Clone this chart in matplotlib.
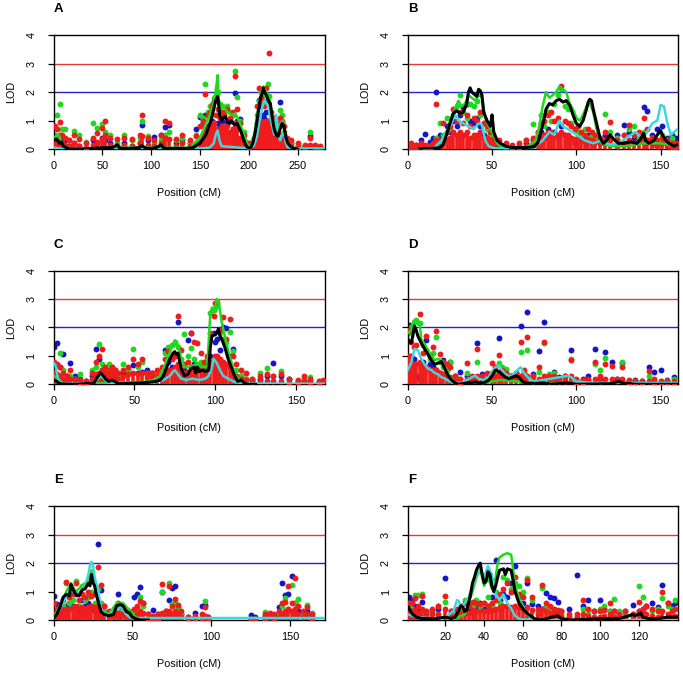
import matplotlib
matplotlib.use("Agg")
import matplotlib.pyplot as plt

plt.rcParams["font.family"] = ["Liberation Sans", "DejaVu Sans"]

RED = "#f01c1c"
GREEN = "#20d820"
BLUE = "#1414c8"
CYAN = "#3cd8e0"

# ---- panel A ------------------------------------------------------------
A_pos = [1, 3, 6, 9, 12, 16, 21, 26, 33, 40, 44, 50, 53, 58, 65, 72, 80, 88, 90, 97,
         103, 110, 114, 118, 125, 132, 140, 146, 150, 153, 155, 158, 160, 162, 164, 166, 168, 170, 172, 175,
         178, 181, 184, 186, 188, 191, 195, 200, 205, 208, 210, 212, 214, 216, 218, 220, 221, 223, 226, 229,
         232, 234, 236, 239, 243, 250, 258, 263, 268, 273]
A_red_a = [0.8, 0.7, 0.96, 0.5, 0.4, 0.3, 0.5, 0.35, 0.2, 0.4, 0.55, 0.75, 1.0, 0.4, 0.35, 0.4, 0.35, 0.5, 1.18, 0.4,
           0.3, 0.5, 1.0, 0.9, 0.35, 0.5, 0.3, 0.45, 0.8, 1.0, 1.93, 1.2, 1.3, 1.5, 1.7, 1.2, 1.4, 1.1, 1.3, 1.2,
           1.4, 1.1, 1.3, 2.56, 1.4, 0.9, 0.5, 0.2, 0.4, 1.5, 2.13, 1.8, 1.6, 1.5, 2.15, 1.6, 3.36, 1.3, 1.1, 0.9,
           1.1, 1.0, 0.8, 0.4, 0.3, 0.2, 0.15, 0.4, 0.15, 0.12]
A_red_b = [0.4, 0.3, 0.5, 0.2, 0.15, 0.1, 0.2, 0.1, 0.05, 0.15, 0.25, 0.35, 0.5, 0.15, 0.1, 0.15, 0.1, 0.2, 0.45, 0.15,
           0.1, 0.2, 0.4, 0.35, 0.1, 0.2, 0.1, 0.2, 0.35, 0.5, 0.8, 0.6, 0.7, 0.8, 0.9, 0.7, 0.6, 0.7, 0.8, 0.7,
           0.8, 0.6, 0.7, 0.9, 0.7, 0.4, 0.2, 0.05, 0.15, 0.7, 1.0, 1.0, 0.9, 0.8, 1.0, 0.8, 1.0, 0.7, 0.5, 0.4,
           0.5, 0.5, 0.4, 0.2, 0.1, 0.05, 0.05, 0.15, 0.05, 0.05]
A_green = [0.5, 1.19, 1.6, 0.7, 0.7, 0.3, 0.65, 0.5, 0.25, 0.92, 0.73, 0.88, 0.6, 0.5, 0.2, 0.5, 0.3, 0.4, 0.99, 0.45,
           0.2, 0.3, 0.5, 0.6, 0.3, 0.4, 0.2, 0.5, 1.19, 1.1, 2.3, 1.3, 1.5, 1.6, 1.8, 1.9, 2.0, 1.6, 1.5, 1.3,
           1.5, 1.3, 1.2, 2.75, 1.84, 1.0, 0.6, 0.2, 0.3, 1.2, 1.7, 2.0, 1.9, 1.7, 1.9, 2.3, 1.85, 1.2, 0.9, 0.7,
           1.37, 1.2, 0.6, 0.3, 0.2, 0.1, 0.1, 0.6, 0.1, 0.05]
A_blue = [0.3, 0.2, 0.4, 0.1, 0.3, 0.1, 0.2, 0.1, 0.05, 0.3, 0.2, 0.4, 0.3, 0.2, 0.1, 0.2, 0.1, 0.2, 0.84, 0.3,
          0.43, 0.5, 0.78, 0.85, 0.2, 0.3, 0.2, 0.7, 1.13, 0.9, 1.2, 0.8, 1.3, 1.0, 0.9, 0.7, 0.9, 0.8, 1.0, 0.7,
          0.9, 1.0, 0.7, 1.98, 1.0, 1.05, 0.3, 0.1, 0.3, 0.9, 1.72, 1.5, 1.2, 1.1, 1.3, 1.0, 0.9, 0.8, 0.6, 0.5,
          1.66, 0.9, 0.5, 0.3, 0.2, 0.1, 0.1, 0.45, 0.05, 0.05]
A_black_x = [0, 2, 4, 6, 8, 10, 13, 16, 20, 30, 40, 50, 55, 60, 63, 65, 67, 70, 80, 88,
             90, 92, 95, 100, 105, 108, 110, 112, 115, 125, 135, 143, 147, 150, 153, 156, 158, 160, 162, 164,
             166, 168, 169, 170, 172, 174, 176, 178, 180, 182, 184, 186, 188, 190, 192, 194, 196, 198, 200, 202,
             204, 206, 208, 210, 212, 214, 215, 216, 218, 220, 222, 224, 226, 228, 230, 232, 234, 236, 238, 240,
             243, 246, 250]
A_black_y = [0.3, 0.35, 0.3, 0.2, 0.25, 0.1, 0.05, 0.0, 0.0, 0.0, 0.02, 0.05, 0.05, 0.05, 0.1, 0.15, 0.05, 0.02, 0.02, 0.05,
             0.12, 0.08, 0.02, 0.02, 0.05, 0.1, 0.15, 0.05, 0.02, 0.02, 0.02, 0.05, 0.15, 0.2, 0.35, 0.5, 0.7, 0.9, 1.1, 1.4,
             1.7, 1.85, 1.6, 1.2, 1.0, 1.1, 1.15, 0.95, 0.9, 1.0, 0.9, 0.85, 0.9, 0.75, 0.6, 0.4, 0.2, 0.08, 0.02, 0.05,
             0.2, 0.5, 0.9, 1.4, 1.8, 2.0, 2.15, 2.0, 1.9, 1.7, 1.6, 1.1, 0.7, 0.5, 0.45, 0.7, 0.9, 0.8, 0.4, 0.2,
             0.08, 0.02, 0.0]
A_green_x = [0, 5, 10, 20, 60, 140, 150, 155, 160, 163, 165, 167, 168, 169, 171, 174, 178, 182, 186, 190,
             194, 198, 202, 206, 209, 212, 215, 218, 221, 224, 228, 232, 235, 238, 242, 250]
A_green_y = [0.4, 0.5, 0.1, 0.0, 0.05, 0.05, 0.4, 0.8, 1.2, 1.5, 1.8, 2.3, 2.6, 1.8, 1.4, 1.5, 1.3, 1.2, 1.25, 1.0,
             0.6, 0.2, 0.05, 0.6, 1.3, 1.9, 2.2, 2.0, 1.8, 1.2, 0.6, 0.9, 1.0, 0.4, 0.1, 0.0]
A_cyan_x = [0, 10, 50, 100, 150, 160, 164, 166, 168, 170, 172, 190, 200, 205, 208, 211, 214, 216, 218, 220,
            222, 224, 226, 228, 230, 232, 234, 236, 238, 240, 250, 278]
A_cyan_y = [0.05, 0.0, 0.02, 0.02, 0.02, 0.05, 0.2, 0.5, 0.65, 0.3, 0.1, 0.05, 0.02, 0.1, 0.4, 1.0, 1.5, 1.7, 1.6, 1.5,
            1.1, 0.8, 0.5, 1.2, 0.6, 0.3, 0.5, 0.6, 0.2, 0.05, 0.02, 0.02]

# ---- panel B ------------------------------------------------------------
B_pos = [2, 5, 8, 10, 13, 15, 17, 19, 21, 23, 25, 27, 29, 31, 33, 35, 37, 39, 41, 43,
         45, 47, 49, 51, 54, 58, 62, 66, 70, 74, 77, 79, 81, 83, 85, 87, 89, 91, 93, 95,
         97, 99, 101, 103, 105, 107, 109, 111, 114, 117, 120, 124, 128, 131, 134, 137, 140, 142, 145, 148,
         151, 154, 157, 159]
B_red_a = [0.2, 0.15, 0.2, 0.15, 0.1, 0.2, 1.58, 0.3, 0.9, 0.6, 0.8, 1.4, 1.0, 1.3, 0.9, 1.2, 0.8, 1.1, 1.0, 1.3,
           0.9, 0.8, 0.6, 0.4, 0.3, 0.2, 0.15, 0.2, 0.3, 0.4, 0.6, 0.9, 1.0, 1.2, 1.3, 1.0, 1.1, 2.21, 1.0, 0.9,
           0.8, 0.7, 0.8, 0.6, 0.5, 0.7, 0.6, 0.5, 0.4, 0.6, 0.96, 0.3, 0.5, 0.84, 0.5, 0.6, 1.08, 0.7, 0.4, 0.3,
           0.4, 0.3, 0.2, 0.2]
B_red_b = [0.05, 0.05, 0.1, 0.05, 0.05, 0.1, 0.3, 0.1, 0.3, 0.3, 0.4, 0.6, 0.5, 0.6, 0.5, 0.6, 0.4, 0.5, 0.5, 0.6,
           0.4, 0.4, 0.3, 0.2, 0.1, 0.05, 0.05, 0.05, 0.1, 0.2, 0.3, 0.4, 0.5, 0.6, 0.6, 0.5, 0.5, 0.6, 0.5, 0.5,
           0.4, 0.35, 0.4, 0.3, 0.25, 0.35, 0.3, 0.25, 0.2, 0.3, 0.3, 0.1, 0.2, 0.3, 0.2, 0.25, 0.35, 0.3, 0.15, 0.1,
           0.2, 0.1, 0.05, 0.05]
B_green = [0.1, 0.05, 0.1, 0.05, 0.1, 0.1, 0.4, 0.9, 0.5, 1.08, 0.7, 1.2, 1.5, 1.9, 1.3, 1.1, 1.6, 1.5, 1.7, 1.2,
           0.9, 0.7, 0.5, 0.3, 0.1, 0.05, 0.05, 0.1, 0.3, 0.87, 0.6, 1.2, 0.8, 1.3, 1.0, 1.6, 1.9, 2.1, 1.5, 1.4,
           0.9, 0.7, 0.6, 0.5, 0.7, 0.4, 0.5, 0.3, 0.4, 1.23, 0.6, 0.4, 0.5, 0.7, 0.8, 0.4, 0.6, 0.3, 0.4, 0.2,
           0.5, 0.3, 0.4, 0.1]
B_blue = [0.1, 0.15, 0.3, 0.53, 0.25, 0.4, 2.0, 0.5, 0.3, 0.8, 0.6, 1.0, 0.8, 1.2, 1.49, 1.6, 1.0, 0.9, 1.1, 0.8,
          0.5, 0.4, 0.2, 0.1, 0.05, 0.05, 0.05, 0.1, 0.2, 0.3, 0.5, 0.6, 0.4, 0.7, 0.5, 0.6, 0.4, 0.8, 0.5, 0.3,
          0.4, 0.2, 0.3, 0.4, 0.3, 0.5, 0.2, 0.3, 0.2, 0.5, 0.4, 0.5, 0.84, 0.6, 0.4, 0.3, 1.46, 1.33, 0.5, 0.7,
          0.81, 0.4, 0.5, 0.4]
B_black_x = [7, 15, 19, 21, 23, 25, 27, 29, 31, 33, 35, 36, 37, 38, 40, 41, 42, 43, 44, 45,
             47, 49, 50, 51, 53, 55, 58, 62, 70, 75, 77, 79, 81, 82, 84, 86, 88, 90, 92, 94,
             96, 98, 100, 102, 104, 106, 107, 108, 109, 110, 112, 114, 116, 118, 120, 122, 125, 128, 132, 136,
             138, 140, 141, 143, 146, 148, 150, 151, 153, 155, 158, 160]
B_black_y = [0.0, 0.02, 0.05, 0.15, 0.5, 0.9, 1.25, 1.35, 1.25, 1.3, 1.6, 2.0, 2.15, 2.0, 1.9, 1.85, 2.1, 2.05, 1.9, 1.3,
             1.0, 0.8, 1.2, 0.6, 0.3, 0.2, 0.1, 0.05, 0.05, 0.08, 0.2, 0.6, 1.1, 1.4, 1.6, 1.55, 1.7, 1.75, 1.65, 1.7,
             1.55, 1.2, 0.9, 0.8, 1.0, 1.4, 1.65, 1.75, 1.7, 1.4, 0.9, 0.4, 0.2, 0.3, 0.5, 0.35, 0.2, 0.2, 0.25, 0.2,
             0.35, 0.55, 0.3, 0.2, 0.3, 0.5, 0.65, 0.5, 0.3, 0.2, 0.1, 0.15]
B_green_x = [15, 20, 23, 26, 28, 30, 32, 34, 36, 38, 40, 42, 44, 46, 48, 50, 53, 56, 60, 70,
             76, 78, 80, 82, 84, 86, 88, 90, 92, 94, 96, 98, 100, 102, 104, 106, 108, 110, 112, 115,
             120, 130, 140, 150, 160]
B_green_y = [0.0, 0.1, 0.6, 1.1, 1.4, 1.7, 1.5, 1.6, 1.9, 1.8, 1.7, 1.9, 1.8, 1.1, 0.8, 0.6, 0.2, 0.05, 0.02, 0.05,
             0.3, 0.8, 1.5, 2.0, 1.8, 1.9, 2.0, 2.2, 2.1, 2.0, 1.6, 1.4, 1.1, 1.0, 1.2, 1.5, 1.6, 1.3, 0.7, 0.2,
             0.1, 0.1, 0.2, 0.2, 0.1]
B_cyan_x = [15, 20, 23, 26, 28, 30, 33, 36, 39, 42, 44, 46, 48, 52, 60, 75, 80, 84, 87, 90,
            92, 95, 100, 105, 110, 115, 120, 125, 130, 135, 138, 142, 145, 148, 150, 152, 154, 156, 158, 160]
B_cyan_y = [0.0, 0.3, 0.6, 0.9, 1.2, 1.0, 0.9, 0.8, 0.7, 0.9, 0.85, 0.3, 0.1, 0.02, 0.0, 0.05, 0.3, 0.6, 0.5, 1.0,
            0.8, 0.7, 0.5, 0.3, 0.2, 0.3, 0.15, 0.2, 0.4, 0.6, 0.45, 0.6, 0.9, 1.0, 1.55, 1.5, 0.9, 0.5, 0.6, 0.7]

# ---- panel C ------------------------------------------------------------
C_pos = [0.5, 2, 4, 6, 8, 10, 13, 16, 20, 24, 26, 28, 30, 32, 34, 36, 38, 40, 43, 46,
         49, 52, 55, 58, 61, 64, 67, 69, 71, 73, 75, 77, 79, 81, 83, 85, 87, 89, 91, 93,
         95, 97, 99, 100, 101, 103, 105, 107, 109, 111, 113, 116, 119, 123, 128, 132, 136, 141, 146, 151,
         155, 159, 164, 167]
C_red_a = [0.8, 0.7, 0.6, 0.4, 0.3, 0.5, 0.2, 0.15, 0.1, 0.4, 0.8, 1.0, 1.24, 0.6, 0.5, 0.6, 0.5, 0.4, 0.5, 0.6,
           0.9, 0.7, 0.9, 0.4, 0.4, 0.5, 0.6, 0.9, 1.17, 0.9, 1.0, 2.42, 1.2, 0.7, 0.8, 1.79, 1.5, 1.44, 1.1, 0.8,
           1.0, 1.8, 2.4, 2.85, 2.91, 1.9, 2.38, 1.6, 2.3, 1.0, 0.7, 0.5, 0.4, 0.2, 0.3, 0.35, 0.3, 0.35, 0.2, 0.15,
           0.3, 0.2, 0.1, 0.15]
C_red_b = [0.4, 0.35, 0.3, 0.2, 0.15, 0.2, 0.1, 0.05, 0.05, 0.2, 0.35, 0.4, 0.5, 0.4, 0.35, 0.4, 0.3, 0.2, 0.3, 0.35,
           0.4, 0.35, 0.4, 0.25, 0.3, 0.3, 0.35, 0.45, 0.5, 0.5, 0.6, 0.7, 0.5, 0.4, 0.45, 0.6, 0.6, 0.5, 0.5, 0.4,
           0.5, 0.8, 0.9, 1.0, 1.0, 0.9, 0.8, 0.7, 0.6, 0.4, 0.3, 0.2, 0.15, 0.1, 0.1, 0.1, 0.1, 0.1, 0.05, 0.05,
           0.1, 0.05, 0.05, 0.1]
C_green = [0.3, 0.2, 1.09, 0.5, 0.3, 0.3, 0.2, 0.35, 0.1, 0.5, 0.6, 1.41, 0.7, 0.5, 0.7, 0.6, 0.4, 0.3, 0.7, 0.5,
           1.24, 0.6, 0.8, 0.4, 0.3, 0.4, 0.5, 1.1, 1.3, 1.4, 1.5, 1.3, 0.9, 1.76, 1.0, 1.27, 0.9, 0.7, 0.8, 0.7,
           0.9, 2.5, 2.6, 2.7, 2.8, 1.8, 1.6, 1.5, 1.85, 1.18, 0.5, 0.3, 0.2, 0.2, 0.4, 0.59, 0.3, 0.48, 0.2, 0.1,
           0.2, 0.27, 0.1, 0.05]
C_blue = [1.3, 1.44, 0.6, 1.06, 0.3, 0.74, 0.3, 0.2, 0.1, 0.3, 1.24, 0.9, 0.5, 0.4, 0.3, 0.4, 0.5, 0.3, 0.4, 0.5,
          0.67, 0.4, 0.45, 0.5, 0.4, 0.3, 0.4, 1.21, 0.8, 0.6, 0.5, 2.18, 0.4, 0.5, 1.56, 1.79, 0.7, 0.6, 0.75, 0.5,
          0.6, 1.0, 1.8, 1.5, 1.6, 1.2, 2.0, 1.99, 1.0, 1.24, 0.3, 0.3, 0.2, 0.15, 0.2, 0.3, 0.74, 0.3, 0.2, 0.1,
          0.1, 0.1, 0.05, 0.1]
C_black_x = [0, 2, 4, 8, 15, 25, 27, 29, 30, 32, 34, 36, 38, 40, 45, 55, 60, 63, 66, 68,
             70, 72, 74, 75, 76, 77, 78, 79, 81, 83, 85, 87, 88, 89, 90, 92, 94, 96, 97, 98,
             100, 101, 102, 103, 104, 106, 108, 110, 112, 114, 116, 118, 120, 125]
C_black_y = [0.15, 0.1, 0.02, 0.0, 0.0, 0.05, 0.25, 0.4, 0.35, 0.2, 0.1, 0.15, 0.1, 0.02, 0.03, 0.05, 0.08, 0.1, 0.15, 0.3,
             0.6, 0.9, 1.1, 1.15, 1.05, 1.1, 0.8, 0.55, 0.3, 0.35, 0.55, 0.6, 0.4, 0.6, 0.45, 0.5, 0.45, 0.5, 1.3, 1.7,
             1.75, 1.8, 1.95, 1.7, 1.6, 1.3, 0.9, 0.6, 0.3, 0.1, 0.15, 0.05, 0.0, 0.0]
C_green_x = [0, 3, 6, 20, 60, 66, 69, 71, 73, 74, 75, 76, 77, 79, 81, 84, 88, 92, 95, 96,
             97, 98, 99, 100, 101, 102, 103, 104, 106, 108, 110, 112, 114, 118]
C_green_y = [0.3, 0.2, 0.0, 0.02, 0.1, 0.3, 0.7, 1.0, 1.3, 1.4, 1.55, 1.35, 1.4, 0.9, 0.6, 0.6, 0.7, 0.6, 0.6, 1.5,
             2.5, 2.7, 2.65, 2.7, 3.0, 2.95, 2.6, 2.2, 1.7, 1.2, 0.8, 0.4, 0.2, 0.05]
C_cyan_x = [0, 1, 2, 3, 6, 20, 26, 29, 31, 34, 40, 60, 68, 72, 74, 75, 77, 79, 82, 86,
            90, 94, 96, 98, 99, 101, 103, 105, 108, 112, 120, 168]
C_cyan_y = [0.75, 0.7, 0.4, 0.1, 0.02, 0.02, 0.1, 0.3, 0.2, 0.05, 0.02, 0.05, 0.15, 0.3, 0.45, 0.5, 0.35, 0.2, 0.15, 0.2,
            0.15, 0.2, 0.3, 0.6, 0.9, 0.75, 0.5, 0.3, 0.2, 0.08, 0.03, 0.02]

# ---- panel D ------------------------------------------------------------
D_pos = [0.5, 2, 3.5, 5, 7, 9, 11, 13, 15, 17, 19, 21, 23, 25, 28, 31, 35, 38, 41, 44,
         47, 50, 52, 54, 56, 58, 61, 64, 67, 69, 71, 74, 78, 81, 84, 87, 90, 93, 97, 100,
         104, 107, 111, 114, 117, 121, 124, 127, 131, 135, 139, 143, 146, 150, 154, 158]
D_red_a = [1.9, 1.5, 1.3, 1.4, 2.46, 1.1, 1.7, 1.0, 1.3, 1.88, 1.07, 0.8, 0.7, 0.6, 0.3, 0.2, 0.74, 0.3, 1.24, 0.3,
           0.4, 0.75, 0.6, 1.03, 0.5, 0.4, 0.3, 0.4, 1.5, 0.5, 1.68, 0.3, 0.62, 1.5, 0.3, 0.3, 0.2, 0.3, 0.86, 0.2,
           0.15, 0.2, 0.8, 0.3, 0.7, 0.66, 0.2, 0.6, 0.15, 0.1, 0.1, 0.47, 0.2, 0.1, 0.1, 0.1]
D_red_b = [1.0, 0.8, 0.7, 0.7, 0.8, 0.6, 0.6, 0.5, 0.5, 0.5, 0.4, 0.35, 0.3, 0.25, 0.1, 0.05, 0.2, 0.15, 0.3, 0.1,
           0.15, 0.3, 0.3, 0.35, 0.25, 0.2, 0.15, 0.2, 0.3, 0.2, 0.3, 0.1, 0.2, 0.3, 0.1, 0.15, 0.1, 0.1, 0.3, 0.05,
           0.05, 0.1, 0.2, 0.1, 0.2, 0.2, 0.1, 0.2, 0.05, 0.05, 0.05, 0.1, 0.05, 0.05, 0.05, 0.05]
D_green = [1.8, 2.0, 2.2, 2.25, 2.15, 1.4, 1.2, 0.9, 1.1, 1.68, 0.8, 0.6, 0.5, 0.8, 0.3, 0.2, 0.4, 0.2, 0.8, 0.2,
           0.3, 0.4, 0.5, 0.75, 0.6, 0.55, 0.3, 0.4, 1.13, 0.4, 1.2, 0.3, 0.45, 1.45, 0.38, 0.4, 0.2, 0.2, 0.9, 0.1,
           0.1, 0.15, 0.7, 0.5, 0.91, 0.1, 0.15, 0.8, 0.1, 0.1, 0.1, 0.3, 0.1, 0.1, 0.1, 0.2]
D_blue = [2.09, 1.0, 0.9, 0.3, 0.2, 0.8, 1.56, 0.7, 0.6, 0.5, 0.4, 0.85, 0.5, 0.8, 0.3, 0.45, 0.3, 0.2, 1.44, 0.35,
          0.3, 0.4, 0.5, 1.64, 0.5, 0.4, 0.3, 0.4, 2.06, 0.4, 2.53, 0.35, 1.17, 2.18, 0.3, 0.45, 0.25, 0.3, 1.21, 0.15,
          0.2, 0.3, 1.23, 0.2, 1.15, 0.8, 0.2, 0.75, 0.1, 0.15, 0.1, 0.62, 0.44, 0.5, 0.15, 0.25]
D_black_x = [0, 1, 2, 3, 4, 5, 6, 8, 10, 12, 14, 16, 18, 20, 22, 24, 26, 28, 30, 35,
             40, 45, 48, 50, 52, 54, 56, 58, 60, 62, 64, 66, 68, 70, 75, 80, 85, 95, 100, 120,
             125, 128, 135, 160]
D_black_y = [1.6, 1.5, 1.45, 1.7, 2.05, 1.9, 1.7, 1.45, 1.25, 1.05, 0.85, 0.7, 0.75, 0.8, 0.55, 0.3, 0.15, 0.05, 0.0, 0.05,
             0.08, 0.05, 0.15, 0.3, 0.5, 0.45, 0.35, 0.25, 0.2, 0.25, 0.3, 0.25, 0.1, 0.05, 0.03, 0.05, 0.0, 0.05, 0.0, 0.02,
             0.1, 0.05, 0.0, 0.0]
D_green_x = [0, 2, 3, 4, 5, 6, 7, 8, 10, 12, 14, 16, 18, 20, 22, 24, 26, 28, 30, 40,
             50, 55, 65, 80, 160]
D_green_y = [1.8, 1.9, 2.1, 2.25, 2.2, 2.1, 2.15, 1.6, 1.4, 1.2, 1.0, 0.85, 0.9, 0.85, 0.6, 0.35, 0.2, 0.05, 0.02, 0.02,
             0.1, 0.15, 0.1, 0.03, 0.02]
D_cyan_x = [0, 2, 4, 6, 8, 10, 12, 14, 16, 18, 20, 22, 25, 28, 32, 35, 38, 40, 42, 45,
            48, 50, 52, 54, 56, 58, 60, 62, 65, 67, 69, 72, 75, 80, 85, 90, 95, 97, 100, 110, 160]
D_cyan_y = [0.5, 0.75, 1.25, 1.2, 0.9, 0.7, 0.55, 0.5, 0.4, 0.35, 0.25, 0.2, 0.1, 0.05, 0.05, 0.15, 0.25, 0.3, 0.2, 0.15,
            0.25, 0.45, 0.6, 0.65, 0.5, 0.35, 0.3, 0.3, 0.5, 0.6, 0.4, 0.2, 0.1, 0.15, 0.2, 0.25, 0.3, 0.25, 0.1, 0.05, 0.05]

# ---- panel E ------------------------------------------------------------
E_pos = [0.5, 2, 4, 6, 8, 10, 12, 14, 16, 18, 20, 22, 24, 26, 28, 30, 32, 35, 38, 41,
         43, 45, 48, 51, 53, 55, 57, 60, 63, 66, 69, 71, 73, 75, 77, 79, 81, 85, 90, 94,
         96, 98, 125, 128, 134, 137, 140, 143, 145, 147, 149, 151, 153, 155, 158, 161, 164]
E_red_a = [0.6, 0.4, 0.5, 0.7, 1.32, 0.8, 0.9, 1.3, 0.7, 0.9, 0.8, 1.0, 0.85, 0.9, 1.86, 1.24, 0.5, 0.3, 0.4, 0.6,
           0.5, 0.4, 0.3, 0.4, 0.5, 0.68, 0.6, 0.2, 0.15, 0.2, 1.27, 0.3, 1.18, 0.5, 0.74, 0.53, 0.3, 0.1, 0.15, 0.2,
           0.45, 0.1, 0.05, 0.05, 0.2, 0.25, 0.2, 0.3, 0.6, 0.65, 1.2, 0.6, 1.47, 0.5, 0.3, 0.47, 0.2]
E_red_b = [0.2, 0.15, 0.2, 0.35, 0.4, 0.4, 0.45, 0.5, 0.4, 0.45, 0.4, 0.45, 0.5, 0.45, 0.5, 0.3, 0.2, 0.1, 0.15, 0.25,
           0.2, 0.15, 0.1, 0.15, 0.2, 0.3, 0.25, 0.05, 0.05, 0.05, 0.25, 0.15, 0.3, 0.2, 0.3, 0.2, 0.1, 0.05, 0.05, 0.05,
           0.15, 0.05, 0.02, 0.02, 0.05, 0.1, 0.05, 0.1, 0.2, 0.3, 0.4, 0.3, 0.4, 0.2, 0.1, 0.2, 0.05]
E_green = [0.3, 0.2, 0.3, 0.5, 1.29, 0.6, 0.7, 1.38, 0.5, 1.2, 0.7, 0.8, 1.0, 0.6, 1.1, 0.6, 0.3, 0.2, 0.3, 0.55,
           0.4, 0.3, 0.2, 0.3, 0.4, 0.82, 0.5, 0.1, 0.1, 0.1, 1.0, 0.2, 1.29, 0.56, 0.6, 0.4, 0.2, 0.05, 0.1, 0.1,
           0.68, 0.05, 0.02, 0.02, 0.29, 0.2, 0.1, 0.2, 0.5, 0.76, 0.4, 1.24, 0.6, 0.75, 0.2, 0.53, 0.25]
E_blue = [0.85, 0.55, 0.2, 0.4, 0.5, 0.6, 0.5, 0.9, 0.3, 0.7, 0.5, 0.6, 0.4, 0.3, 2.67, 1.05, 0.5, 0.2, 0.25, 0.92,
          0.3, 0.2, 0.15, 0.82, 0.92, 1.15, 0.6, 0.2, 0.35, 0.2, 0.98, 0.3, 0.7, 1.12, 1.2, 0.45, 0.2, 0.1, 0.24, 0.5,
          0.51, 0.1, 0.18, 0.12, 0.15, 0.1, 0.15, 0.45, 1.29, 0.88, 0.9, 1.55, 0.61, 0.3, 0.15, 0.3, 0.1]
E_black_x = [0, 2, 4, 6, 8, 10, 11, 12, 14, 16, 18, 20, 22, 23, 24, 25, 26, 27, 28, 30,
             32, 35, 38, 40, 42, 44, 46, 48, 50, 52, 55, 60]
E_black_y = [0.05, 0.2, 0.45, 0.8, 0.9, 0.85, 1.25, 1.1, 0.9, 0.85, 1.05, 1.1, 1.3, 1.2, 1.6, 1.3, 1.2, 0.9, 0.7, 0.3,
             0.2, 0.15, 0.2, 0.5, 0.55, 0.5, 0.3, 0.25, 0.1, 0.05, 0.0, 0.0]
E_green_x = [0, 4, 8, 11, 14, 18, 22, 24, 26, 28, 30, 35, 40, 44, 48, 52, 56]
E_green_y = [0.1, 0.5, 1.0, 1.3, 1.0, 1.2, 1.4, 1.75, 1.4, 0.8, 0.35, 0.2, 0.6, 0.6, 0.35, 0.1, 0.02]
E_cyan_x = [0, 3, 6, 8, 11, 14, 17, 20, 22, 23, 24, 25, 26, 27, 28, 30, 33, 36, 40, 43,
            46, 48, 50, 55, 60, 100, 140, 172]
E_cyan_y = [0.0, 0.3, 0.6, 0.85, 1.1, 0.9, 1.0, 1.2, 1.6, 1.9, 2.05, 1.9, 1.5, 1.3, 1.1, 0.4, 0.15, 0.2, 0.4, 0.45,
            0.2, 0.1, 0.07, 0.07, 0.07, 0.07, 0.07, 0.07]

# ---- panel F ------------------------------------------------------------
F_pos = [1, 2.5, 4, 6, 8, 10, 13, 16, 20, 23, 26, 28, 30, 32, 34, 36, 38, 40, 42, 44,
         46, 48, 50, 52, 54, 56, 58, 60, 62, 65, 68, 70, 72, 74, 76, 78, 80, 84, 88, 91,
         94, 97, 100, 102, 105, 107, 110, 113, 117, 120, 122, 124, 127, 130, 132, 135, 137, 139]
F_red_a = [0.6, 0.61, 0.76, 0.5, 0.85, 0.3, 0.4, 0.5, 0.85, 0.3, 0.4, 0.5, 0.6, 0.5, 0.65, 0.6, 0.55, 0.6, 0.5, 0.6,
           0.7, 0.9, 1.1, 1.3, 1.0, 1.5, 0.9, 0.8, 1.41, 0.8, 0.4, 1.24, 0.6, 0.5, 0.4, 0.35, 0.3, 0.2, 0.2, 0.7,
           0.4, 0.3, 0.3, 0.35, 0.6, 0.3, 0.2, 0.3, 0.2, 0.65, 0.4, 0.5, 0.4, 0.3, 1.0, 0.6, 0.3, 0.4]
F_red_b = [0.3, 0.3, 0.35, 0.25, 0.4, 0.15, 0.2, 0.2, 0.4, 0.15, 0.2, 0.25, 0.3, 0.25, 0.35, 0.3, 0.3, 0.3, 0.3, 0.35,
           0.4, 0.45, 0.5, 0.5, 0.45, 0.5, 0.45, 0.4, 0.45, 0.35, 0.2, 0.4, 0.3, 0.25, 0.2, 0.2, 0.15, 0.1, 0.1, 0.2,
           0.15, 0.1, 0.1, 0.15, 0.2, 0.1, 0.1, 0.1, 0.1, 0.3, 0.2, 0.2, 0.15, 0.1, 0.3, 0.2, 0.1, 0.15]
F_green = [0.5, 0.4, 0.87, 0.88, 0.9, 0.3, 0.35, 0.5, 0.65, 0.2, 0.3, 0.4, 0.7, 0.6, 0.5, 0.7, 0.5, 0.6, 0.8, 0.5,
           1.0, 0.6, 1.5, 1.4, 1.1, 1.3, 1.2, 1.0, 1.47, 0.7, 0.3, 1.12, 0.5, 0.3, 0.4, 0.3, 0.2, 0.15, 0.1, 0.4,
           0.2, 0.3, 0.4, 0.5, 0.3, 0.74, 0.3, 0.2, 0.2, 1.18, 0.82, 0.5, 0.3, 0.4, 0.76, 0.5, 0.4, 0.71]
F_blue = [0.8, 0.7, 0.5, 0.3, 0.65, 0.2, 0.3, 0.4, 1.47, 0.3, 0.2, 0.3, 0.25, 0.3, 0.4, 0.5, 0.6, 0.4, 0.5, 0.8,
          2.12, 0.7, 0.9, 0.8, 1.3, 1.9, 0.8, 0.6, 1.3, 0.55, 0.5, 0.4, 0.96, 0.8, 0.79, 0.65, 0.3, 0.4, 1.59, 0.5,
          0.71, 0.3, 0.71, 0.4, 0.3, 0.3, 0.2, 0.3, 0.51, 0.3, 0.4, 0.5, 0.6, 0.45, 1.24, 0.59, 0.5, 0.6]
F_black_x = [0.5, 1, 2, 3, 5, 8, 15, 20, 23, 25, 27, 28, 29, 30, 31, 32, 33, 34, 35, 36,
             37, 38, 39, 40, 41, 42, 43, 44, 45, 46, 47, 48, 50, 51, 52, 54, 55, 56, 57, 58,
             60, 62, 64, 66, 70, 75, 78, 80, 85, 100, 110, 115, 117, 118, 120, 121, 122, 125, 130, 135, 140]
F_black_y = [0.4, 0.45, 0.3, 0.2, 0.1, 0.05, 0.05, 0.1, 0.05, 0.1, 0.35, 0.5, 0.45, 0.3, 0.35, 0.6, 0.9, 1.3, 1.5, 1.75,
             1.9, 2.0, 1.6, 1.3, 1.35, 1.7, 1.6, 1.2, 1.0, 1.2, 1.5, 1.75, 1.8, 1.6, 1.8, 1.75, 1.4, 1.0, 0.8, 0.6,
             0.4, 0.25, 0.15, 0.05, 0.0, 0.1, 0.15, 0.05, 0.0, 0.05, 0.05, 0.15, 0.2, 0.15, 0.2, 0.25, 0.1, 0.05, 0.05, 0.1, 0.1]
F_green_x = [25, 30, 32, 34, 36, 38, 40, 42, 44, 46, 47, 48, 50, 52, 54, 55, 56, 58, 60, 62, 65, 70]
F_green_y = [0.05, 0.2, 0.6, 1.0, 1.5, 1.8, 1.2, 1.5, 1.1, 1.5, 2.0, 2.2, 2.3, 2.35, 2.3, 1.8, 1.2, 0.8, 0.5, 0.2, 0.05, 0.0]
F_cyan_x = [0.5, 5, 15, 20, 24, 26, 27, 28, 30, 32, 34, 36, 38, 40, 42, 44, 46, 48, 50, 52,
            54, 56, 58, 60, 70, 140]
F_cyan_y = [0.2, 0.1, 0.05, 0.1, 0.3, 0.7, 0.65, 0.4, 0.6, 0.8, 1.2, 1.6, 1.8, 1.5, 1.9, 1.6, 0.9, 0.7, 0.9, 0.6,
            0.4, 0.15, 0.05, 0.02, 0.0, 0.0]

XLIMS = {"A": (0, 278), "B": (0, 160.5), "C": (0, 168), "D": (0, 160.5), "E": (0, 172.2), "F": (0.5, 140.5)}
XTICKS = {"A": [0, 50, 100, 150, 200, 250], "B": [0, 50, 100, 150], "C": [0, 50, 100, 150],
          "D": [0, 50, 100, 150], "E": [0, 50, 100, 150], "F": [20, 40, 60, 80, 100, 120]}

PANELS = [
    ("A", A_pos, A_red_a, A_red_b, A_green, A_blue, A_black_x, A_black_y, A_green_x, A_green_y, A_cyan_x, A_cyan_y),
    ("B", B_pos, B_red_a, B_red_b, B_green, B_blue, B_black_x, B_black_y, B_green_x, B_green_y, B_cyan_x, B_cyan_y),
    ("C", C_pos, C_red_a, C_red_b, C_green, C_blue, C_black_x, C_black_y, C_green_x, C_green_y, C_cyan_x, C_cyan_y),
    ("D", D_pos, D_red_a, D_red_b, D_green, D_blue, D_black_x, D_black_y, D_green_x, D_green_y, D_cyan_x, D_cyan_y),
    ("E", E_pos, E_red_a, E_red_b, E_green, E_blue, E_black_x, E_black_y, E_green_x, E_green_y, E_cyan_x, E_cyan_y),
    ("F", F_pos, F_red_a, F_red_b, F_green, F_blue, F_black_x, F_black_y, F_green_x, F_green_y, F_cyan_x, F_cyan_y),
]

# axes boxes in figure fractions
ROW_B = [0.7799, 0.4323, 0.0842]
COL_L = [0.0786, 0.597]
COL_W = [0.3972, 0.3962]
H = 0.168

fig = plt.figure(figsize=(6.83, 6.77), dpi=100)

for i, (lab, pos, ra, rb, gr, bl, kx, ky, gx, gy, cx, cy) in enumerate(PANELS):
    r, c = divmod(i, 2)
    ax = fig.add_axes([COL_L[c], ROW_B[r], COL_W[c], H])
    ax.axhline(3, color="#e23a3a", lw=1.0, zorder=1)
    ax.axhline(2, color="#2323cc", lw=1.0, zorder=1)
    ax.scatter(pos, bl, s=18, color=BLUE, linewidths=0, zorder=2)
    ax.scatter(pos, gr, s=18, color=GREEN, linewidths=0, zorder=2)
    # stacked low-LOD red markers
    ax.vlines(pos, 0, rb, color=RED, lw=2.6, capstyle="round", zorder=3)
    ax.scatter(pos, rb, s=18, color=RED, linewidths=0, zorder=3)
    ax.scatter(pos, ra, s=18, color=RED, linewidths=0, zorder=3)
    ax.plot(gx, gy, color=GREEN, lw=1.8, zorder=5)
    ax.plot(cx, cy, color=CYAN, lw=1.8, zorder=6)
    ax.plot(kx, ky, color="black", lw=2.2, zorder=7)

    ax.set_xlim(*XLIMS[lab])
    ax.set_ylim(0, 4)
    ax.set_xticks(XTICKS[lab])
    ax.set_yticks([0, 1, 2, 3, 4])
    for s in ax.spines.values():
        s.set_linewidth(1.0)
    ax.tick_params(direction="out", length=4.3, width=0.9, labelsize=7.8)
    ax.tick_params(axis="x", pad=4)
    ax.tick_params(axis="y", labelrotation=90, pad=8)
    for t in ax.get_yticklabels():
        t.set_va("center")
    ax.set_xlabel("Position (cM)", fontsize=7.8)
    ax.xaxis.set_label_coords(0.5, -0.342)
    ax.set_ylabel("LOD", fontsize=7.8)
    ax.yaxis.set_label_coords(-0.14, 0.5)
    ax.text(0.0, 1.228, lab, transform=ax.transAxes, ha="left", va="center",
            fontsize=9.5, fontweight="bold")

fig.savefig("out.png", dpi=100)
